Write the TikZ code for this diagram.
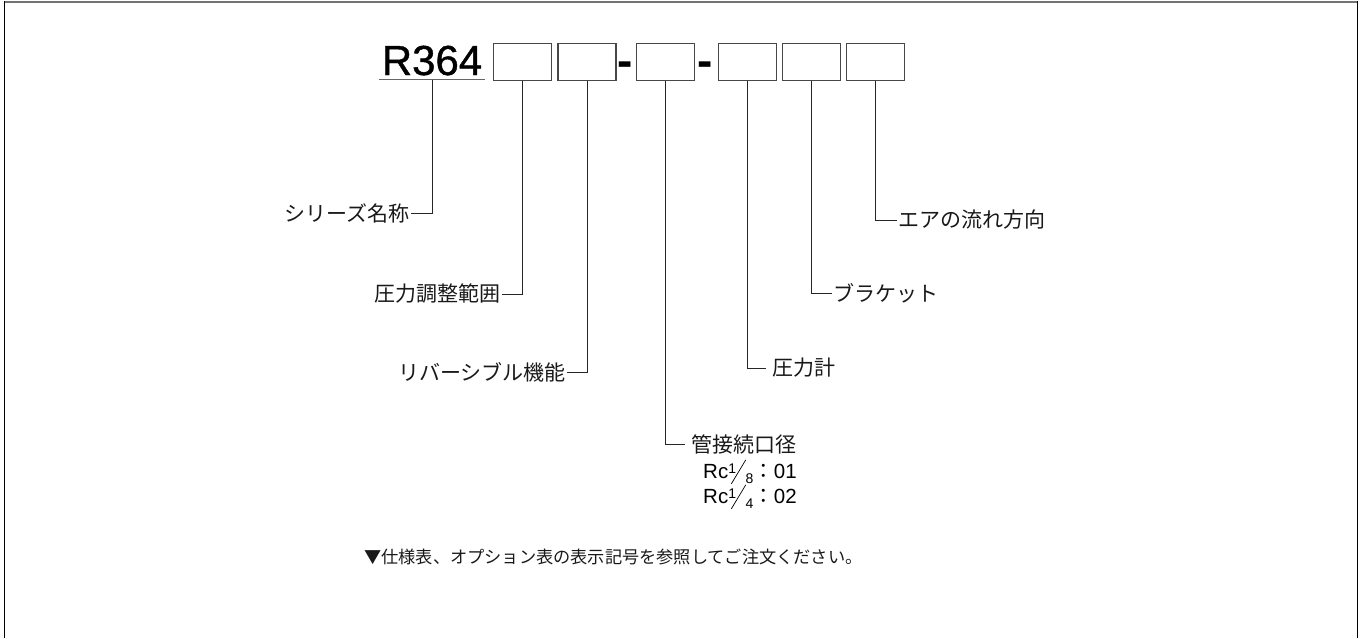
\documentclass[tikz,border=0pt]{standalone}
\usepackage{fontspec}
\usepackage{graphicx}
\setmainfont{Liberation Sans}
\newfontfamily\codefont[FakeBold=1]{Liberation Sans}
\newfontfamily\jp{Noto Sans CJK JP}
\newcommand\rcfrac[2]{\raisebox{5pt}{\fontsize{14}{14}\selectfont #1}\kern-5pt\raisebox{-6pt}{\rotatebox{59}{\rule{28pt}{0.7pt}}}\kern-0.5pt\raisebox{-5pt}{\fontsize{14}{14}\selectfont #2}}
\tikzset{
  codebox/.style={draw=black!72, line width=1.3pt, minimum width=58pt, minimum height=37pt, inner sep=0pt},
  conn/.style={draw=black!85, line width=1pt},
  lbl/.style={font=\jp\fontsize{21}{21}\selectfont, inner ysep=0pt, inner xsep=1pt, text=black!90},
  codetext/.style={font=\codefont\fontsize{42}{42}\selectfont, inner xsep=3pt, inner ysep=4pt},
  hyph/.style={font=\bfseries\fontsize{46}{46}\selectfont, inner sep=0pt},
  rctext/.style={font=\fontsize{20.5}{20.5}\selectfont, inner sep=0pt},
  notetext/.style={font=\jp\fontsize{17.2}{17.2}\selectfont, inner sep=0pt, text=black!90},
}
\begin{document}
\begin{tikzpicture}[x=1pt,y=-1pt]
\useasboundingbox (0,0) rectangle (1364,638);
% frame
\draw[draw=black!55, line width=2pt] (4,2) -- (1358,2);
\draw[line width=1.6pt] (4.5,1) -- (4.5,638);
\draw[line width=1.6pt] (1357.5,1) -- (1357.5,638);
% code
\node[codetext, anchor=base] (r) at (432,75) {R364};
\draw[draw=black!60, line width=1.6pt] (r.south west) -- (r.south east);
\node[codebox] (b1) at (522.5,62) {};
\node[codebox] (b2) at (587,62) {};
\node[hyph, anchor=base] (d1) at (625,76) {-};
\node[codebox] (b3) at (665.5,62) {};
\node[hyph, anchor=base] (d2) at (705.5,76) {-};
\node[codebox] (b4) at (747.5,62) {};
\node[codebox] (b5) at (811.5,62) {};
\node[codebox] (b6) at (875.5,62) {};
% labels
\node[lbl, anchor=east] (l0) at (411,213) {シリーズ名称};
\node[lbl, anchor=east] (l1) at (502,294) {圧力調整範囲};
\node[lbl, anchor=east] (l2) at (567,372) {リバーシブル機能};
\node[lbl, anchor=west, inner xsep=6pt] (l3) at (685,444) {管接続口径};
\node[lbl, anchor=west, inner xsep=6pt] (l4) at (766,368) {圧力計};
\node[lbl, anchor=west] (l5) at (832,293) {ブラケット};
\node[lbl, anchor=west] (l6) at (897,220) {エアの流れ方向};
\node[rctext, anchor=base west] (rc1) at (703,478) {Rc\rcfrac{1}{8}{\jp ：}01};
\node[rctext, anchor=base west] (rc2) at (703,503) {Rc\rcfrac{1}{4}{\jp ：}02};
% connectors
\draw[conn] (r.south) |- (l0.east);
\draw[conn] (b1.south) |- (l1.east);
\draw[conn] (b2.south) |- (l2.east);
\draw[conn] (b3.south) |- (l3.west);
\draw[conn] (b4.south) |- (l4.west);
\draw[conn] (b5.south) |- (l5.west);
\draw[conn] (b6.south) |- (l6.west);
% note
\node[notetext, anchor=west] (note) at (364,557) {▼仕様表、オプション表の表示記号を参照してご注文ください。};
\end{tikzpicture}
\end{document}
